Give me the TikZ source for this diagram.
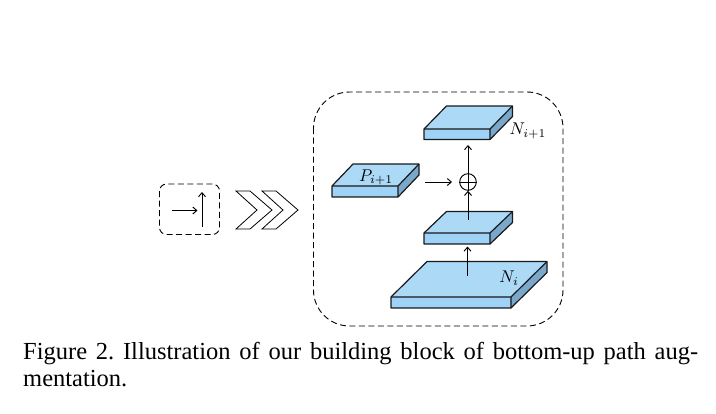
\documentclass[tikz,border=0pt]{standalone}
\usepackage{graphicx}
\usepackage{fontspec}
\setmainfont{Liberation Serif}
\usetikzlibrary{arrows.meta}
\definecolor{topc}{RGB}{172,217,246}
\definecolor{frontc}{RGB}{158,211,247}
\definecolor{sidec}{RGB}{122,168,204}
\definecolor{edgec}{RGB}{25,25,25}
\newcommand{\myslab}[6]{%
  \fill[topc] (#1,#2) -- ++(#3,0) -- ++(#5,-#6) -- ++(-#3,0) -- cycle;
  \fill[frontc] (#1,#2) rectangle ++(#3,#4);
  \fill[sidec] (#1+#3,#2) -- ++(#5,-#6) -- ++(0,#4) -- ++(-#5,#6) -- cycle;
  \draw[slabline] (#1,#2) -- ++(#5,-#6) -- ++(#3,0) -- ++(0,#4) -- ++(-#5,#6) -- ++(-#3,0) -- cycle;
  \draw[slabline] (#1,#2) -- ++(#3,0) -- ++(#5,-#6) (#1+#3,#2) -- ++(0,#4);
}
\newcommand{\mylab}[1]{\scalebox{1.7}{$#1$}}
\begin{document}
\frenchspacing
\begin{tikzpicture}[x=1pt,y=-1pt,
  slabline/.style={edgec,line width=1.2pt,line join=round},
  arr/.style={line width=0.95pt,-{Straight Barb[length=4pt,width=7pt]}},
  dbox/.style={line width=0.9pt,dash pattern=on 6pt off 3.5pt},
  chev/.style={line width=0.8pt,fill=white,line join=miter},
  lab/.style={inner sep=0pt},
  captxt/.style={inner sep=0pt,anchor=base west,font=\fontsize{24.5}{27}\selectfont}]
\useasboundingbox (0,0) rectangle (716,413);

% left small dashed box with arrows
\draw[dbox,rounded corners=7pt] (159.5,184) rectangle (219.5,234.5);
\coordinate (ra1) at (172,210.5);
\coordinate (ra2) at (197.5,210.5);
\coordinate (ua1) at (202,227);
\coordinate (ua2) at (202,192);
\draw[arr] (ra1) -- (ra2);
\draw[arr] (ua1) -- (ua2);

% chevrons
\draw[chev] (236,191) -- (250,191) -- (272,210) -- (250,229) -- (236,229) -- (257,210) -- cycle;
\draw[chev] (262,191) -- (276,191) -- (298,210) -- (276,229) -- (262,229) -- (283,210) -- cycle;

% big dashed box
\draw[dbox,rounded corners=36pt] (313.5,92) rectangle (563,326);

% slabs
\myslab{391}{297}{120}{11}{36}{35.5}
\myslab{424}{233}{66}{11}{22.5}{21.5}
\myslab{332}{186}{66}{11}{21}{22}
\myslab{424}{129}{66}{10.5}{22.5}{23}

% labels
\node[lab] (lni) at (509,278) {\mylab{N_i}};
\node[lab] (lnip) at (528,131) {\mylab{N_{i+1}}};
\node[lab] (lpip) at (376,177.5) {\mylab{P_{i+1}}};

% sum
\node[draw,circle,line width=0.95pt,minimum size=16.6pt,inner sep=0pt] (sum) at (468,182) {};
\draw[line width=0.95pt] (sum.north) -- (sum.south) (sum.west) -- (sum.east);

% arrows
\coordinate (a1s) at (467.5,276);
\coordinate (a1e) at (467.5,246.5);
\coordinate (a2s) at (468,220);
\coordinate (a3e) at (468,145);
\coordinate (hs) at (425,182);
\coordinate (he) at (452,182);
\draw[arr] (a1s) -- (a1e);
\draw[arr] (a2s) -- (sum.south);
\draw[arr] (sum.north) -- (a3e);
\draw[arr] (hs) -- (he);

% caption
\node[captxt] (cap1) at (23,359.5) {\makebox[675pt][s]{Figure 2. Illustration of our building block of bottom-up path aug-}};
\node[captxt] (cap2) at (23,386.5) {mentation.};
\end{tikzpicture}
\end{document}
